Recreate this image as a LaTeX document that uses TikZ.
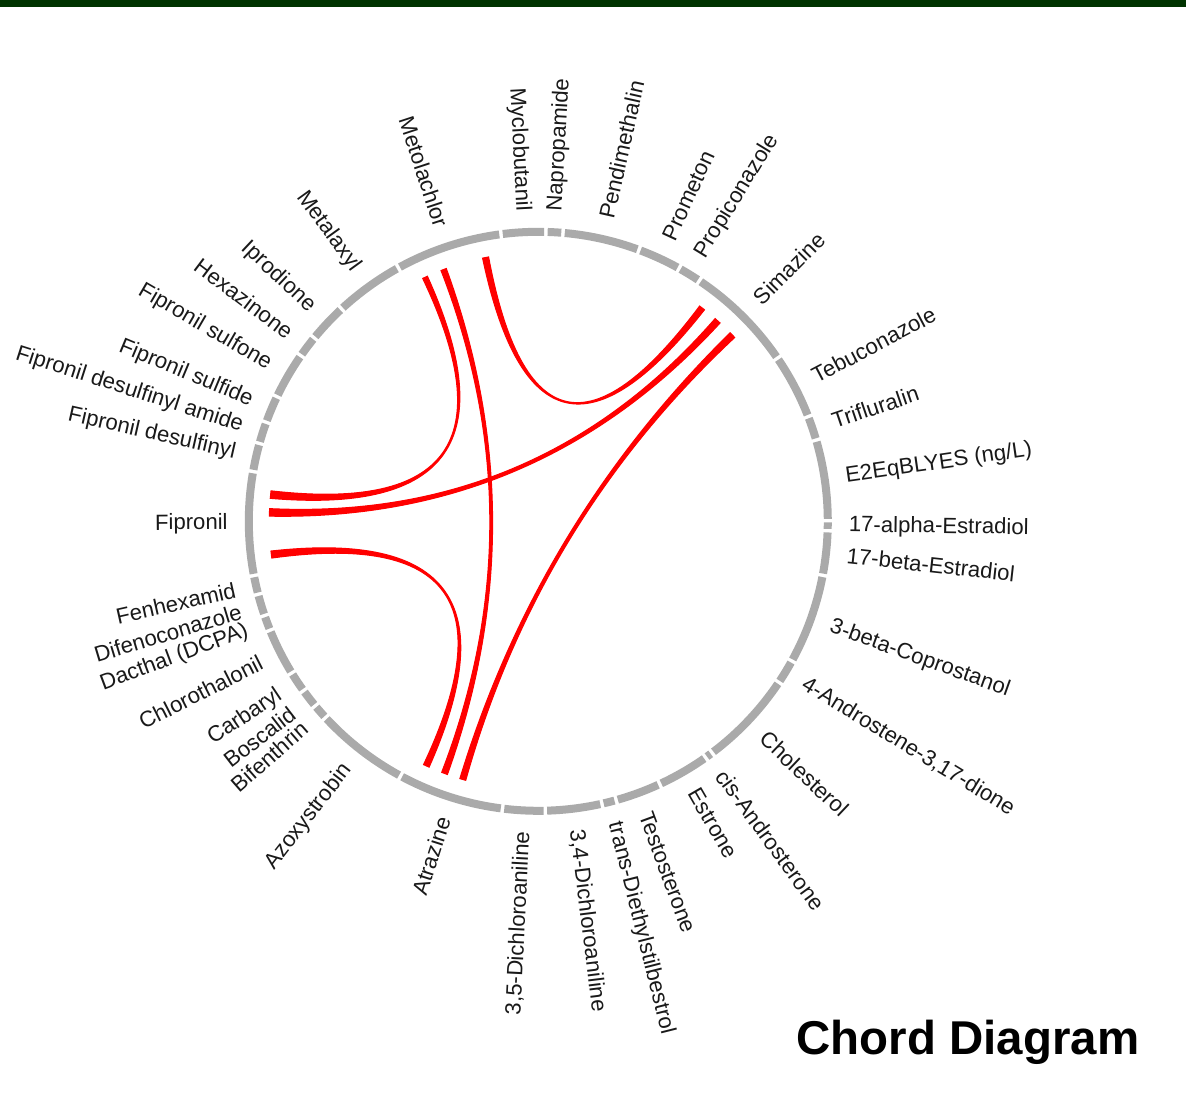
\documentclass[tikz,border=0pt]{standalone}
\usepackage{fontspec}
\setmainfont{Liberation Sans}
\definecolor{ringgray}{RGB}{170,170,170}
\definecolor{topgreen}{RGB}{0,51,0}
\definecolor{chordred}{RGB}{255,0,0}
\newcommand{\rr}{2.895}
\newcommand{\rl}{3.10}
\newcommand{\rc}{2.69}
\newcommand{\rcc}{0.8967}
\tikzset{
  sector/.style={draw=ringgray, line width=0.08cm},
  lbl/.style={inner sep=0pt, font=\fontsize{6.3}{7.5}\selectfont, text=black!90},
  chord/.style={fill=chordred, draw=chordred, line width=0.3pt},
}
\newcommand{\chordlink}[4]{%
  \filldraw[chord] (#1+#2:\rc) .. controls (#1+#2:\rcc) and (#3-#4:\rcc) .. (#3-#4:\rc)
    -- (#3+#4:\rc) .. controls (#3+#4:\rcc) and (#1-#2:\rcc) .. (#1-#2:\rc) -- cycle;}
\begin{document}
\begin{tikzpicture}
  \useasboundingbox (-5.383,-5.897) rectangle (6.477,5.213);
  \fill[topgreen] (-5.383,5.143) rectangle (6.477,5.213);
  \foreach \s/\e/\n/\t in {
      262.9/271.4/dcaa/{3,5-Dichloroaniline}, 271.4/282.7/dcab/{3,4-Dichloroaniline},
      282.7/285.6/des/trans-Diethylstilbestrol, 285.6/294.8/testo/Testosterone,
      294.8/305.3/estrone/Estrone, 305.3/306.9/cisandro/cis-Androsterone,
      306.9/326.2/chol/Cholesterol, 326.2/331.15/andro/{4-Androstene-3,17-dione},
      331.15/349.25/copro/3-beta-Coprostanol, 349.25/358.15/betae/17-beta-Estradiol,
      358.15/360.14/alphae/17-alpha-Estradiol, 0.14/16.3/eeq/{E2EqBLYES (ng/L)},
      16.3/21.2/triflu/Trifluralin, 21.2/34.3/tebu/Tebuconazole,
      34.3/56.2/sima/Simazine, 56.2/60.9/propi/Propiconazole,
      60.9/69.65/prome/Prometon, 69.65/85.1/pendi/Pendimethalin,
      85.1/88.5/napro/Napropamide, 88.5/97.4/myclo/Myclobutanil,
      97.4/118.9/meto/Metolachlor, 118.9/132.8/metal/Metalaxyl,
      132.8/140.7/ipro/Iprodione, 140.7/145.1/hexa/Hexazinone,
      145.1/154.5/fsulfone/Fipronil sulfone, 154.5/160/fsulfide/Fipronil sulfide,
      160/164.4/fdamide/Fipronil desulfinyl amide, 164.4/170.1/fdes/Fipronil desulfinyl,
      170.1/190.8/fipro/Fipronil, 190.8/194.6/fenhex/Fenhexamid,
      194.6/199/difeno/Difenoconazole, 199/202.1/dacthal/Dacthal (DCPA),
      202.1/211.6/chloro/Chlorothalonil, 211.6/215.8/carba/Carbaryl,
      215.8/219.6/bosca/Boscalid, 219.6/222.7/bifen/Bifenthrin,
      222.7/241.6/azoxy/Azoxystrobin, 241.6/262.9/atra/Atrazine} {
    \pgfmathsetmacro\m{(\s+\e)/2}
    \pgfmathtruncatemacro\lft{(\m>90 && \m<270) ? 1 : 0}
    \draw[sector] (\s+0.35:\rr) arc[start angle=\s+0.35, end angle=\e-0.35, radius=\rr];
    \ifnum\lft=1
      \node[lbl, anchor=east, rotate=\m+180] (\n) at (\m:\rl) {\t};
    \else
      \node[lbl, anchor=west, rotate=\m] (\n) at (\m:\rl) {\t};
    \fi
  }
  \foreach \a/\da/\b/\db in {114.9/0.55/174.3/0.8, 110.6/0.6/249.6/0.65, 52.5/0.65/101.3/0.65,
      48.2/0.7/178.1/0.8, 43.8/0.7/253.7/0.65, 187.1/0.75/245.4/0.65}
    \chordlink{\a}{\da}{\b}{\db};
  \node[font=\fontsize{13.5}{16}\selectfont\bfseries] (title) at (4.297,-5.207) {Chord Diagram};
\end{tikzpicture}
\end{document}
